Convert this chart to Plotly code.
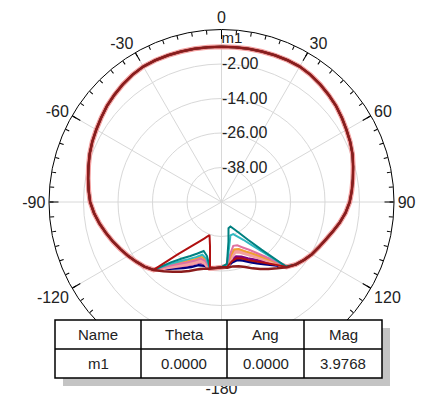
import plotly.graph_objects as go

W, H = 422, 401

# ---------------- data (dB vs theta, degrees) ----------------
theta_front = list(range(-130, 135, 5))
gain_front = [-15.0, -13.8, -12.5, -11.2, -9.8, -8.4, -6.9, -5.5, -4.3, -3.6,
              -2.9, -2.1, -1.2, -0.4, 0.3, 1.1, 2.0, 2.7, 3.4, 4.0,
              4.4, 4.4, 4.3, 4.2, 4.1, 4.0, 3.98, 4.0, 4.1, 4.2,
              4.3, 4.4, 4.4, 4.0, 3.4, 2.7, 2.0, 1.1, 0.2, -0.6,
              -1.5, -2.6, -3.6, -4.5, -5.4, -6.7, -8.3, -10.0, -11.5, -12.7,
              -13.7, -14.9, -16.2]

theta_back_left = [-180, -175, -170, -165, -160, -155, -150, -145, -140, -135]
theta_back_right = [135, 140, 145, 150, 155, 160, 165, 170, 175, 180]

navy_left = [-27.33, -26.98, -26.49, -27.05, -26.63, -25.09, -23.45, -21.71, -19.55, -16.58]
purple_left = [-27.33, -26.98, -26.52, -27.74, -27.67, -26.10, -24.43, -22.58, -20.14, -16.58]
salmon_left = [-27.33, -26.98, -26.56, -28.20, -28.37, -26.80, -25.09, -23.14, -20.56, -16.58]
pink_left = [-27.33, -26.98, -26.56, -28.69, -29.07, -27.47, -25.72, -23.70, -20.94, -16.58]
orange_left = [-27.33, -26.98, -26.59, -29.14, -29.77, -28.16, -26.38, -24.29, -21.36, -16.58]
cyan_left = [-27.33, -26.98, -26.63, -29.63, -30.47, -28.83, -27.05, -24.85, -21.78, -16.58]
teal_left = [-27.33, -26.98, -26.70, -30.53, -31.86, -30.22, -28.34, -26.00, -22.58, -16.58]
darkred_left = [-27.33, -26.98, -26.98, -34.51, -37.79, -36.05, -33.88, -30.81, -26.07, -16.58]
maroon_left = [-27.33, -26.98, -26.42, -25.93, -24.99, -23.49, -21.95, -20.38, -18.60, -16.58]

navy_right = [-17.98, -21.29, -23.59, -25.44, -26.98, -28.37, -29.10, -28.69, -27.29, -27.33]
purple_right = [-18.01, -22.09, -24.74, -26.77, -28.37, -29.77, -30.36, -29.52, -27.43, -27.33]
salmon_right = [-18.05, -23.28, -26.49, -28.79, -30.47, -31.86, -32.28, -30.74, -27.60, -27.33]
pink_right = [-18.08, -24.46, -28.23, -30.81, -32.56, -33.95, -34.20, -31.96, -27.78, -27.33]
orange_right = [-18.05, -23.66, -27.08, -29.45, -31.16, -32.56, -32.91, -31.16, -27.67, -27.33]
cyan_right = [-18.19, -26.87, -31.69, -34.83, -36.74, -38.14, -38.00, -34.44, -28.16, -27.33]
teal_right = [-18.26, -28.37, -33.95, -37.44, -39.53, -40.93, -40.58, -36.05, -28.37, -27.33]
darkred_right = [-17.98, -21.67, -24.19, -26.10, -27.67, -29.07, -29.73, -29.10, -27.36, -27.33]
maroon_right = [-17.91, -19.90, -21.57, -23.10, -24.53, -25.93, -26.87, -27.26, -27.08, -27.33]

curve_names = ["Curve 1", "Curve 2", "Curve 3", "Curve 4", "Curve 5",
               "Curve 6", "Curve 7", "Curve 8", "Curve 9"]
curve_colors = ["#000080", "#800080", "#f4a0a0", "#f0a030", "#e070a0",
                "#30b8c0", "#008080", "#b01010", "#8b1c1c"]
curve_widths = [2.5, 2.5, 5, 2, 2, 2, 2, 2, 2.5]
curve_left = [navy_left, purple_left, salmon_left, orange_left, pink_left,
              cyan_left, teal_left, darkred_left, maroon_left]
curve_right = [navy_right, purple_right, salmon_right, orange_right, pink_right,
               cyan_right, teal_right, darkred_right, maroon_right]

radial_ticks = [-38, -26, -14, -2]
angle_ticks = [0, 30, 60, 90, 120, 180, 240, 270, 300, 330]
angle_labels = ["0", "30", "60", "90", "120", "-180", "-120", "-90", "-60", "-30"]
minor_angle_ticks = list(range(0, 360, 5))

marker_name = "m1"
marker_theta = 0.0
marker_mag = 3.9768

table_header = ["Name", "Theta", "Ang", "Mag"]
table_row = ["m1", "0.0000", "0.0000", "3.9768"]

# ---------------- figure ----------------
FONT = "Liberation Sans, Arial, sans-serif"
fig = go.Figure()

theta_all = theta_back_left + theta_front + theta_back_right
for name, col, lw, lv, rv in zip(curve_names, curve_colors, curve_widths, curve_left, curve_right):
    fig.add_trace(go.Scatterpolar(
        theta=theta_all, r=lv + gain_front + rv, mode="lines",
        line=dict(color=col, width=lw),
        name=name, showlegend=False, subplot="polar"))

fig.add_trace(go.Scatterpolar(
    theta=[marker_theta], r=[marker_mag], mode="text", text=[marker_name],
    textposition="top right", textfont=dict(family=FONT, size=15, color="#222"),
    showlegend=False, subplot="polar"))

fig.add_trace(go.Scatterpolar(theta=[], r=[], subplot="polar2", showlegend=False))

dom_x = [49 / W, 394 / W]
dom_y = [(H - 202 - 172.5) / H, (H - 202 + 172.5) / H]

fig.update_layout(
    width=W, height=H, margin=dict(l=0, r=0, t=0, b=0),
    paper_bgcolor="white", plot_bgcolor="white",
    font=dict(family=FONT, color="#222"),
    polar=dict(
        domain=dict(x=dom_x, y=dom_y),
        bgcolor="white",
        radialaxis=dict(range=[-50, 10], tickvals=radial_ticks,
                        ticktext=["%.2f" % v for v in radial_ticks],
                        showline=False, ticks="", angle=90, side="clockwise",
                        tickangle=90, gridcolor="#d8d8d8", gridwidth=1,
                        tickfont=dict(family=FONT, size=16, color="#222")),
        angularaxis=dict(rotation=90, direction="clockwise", tickmode="array",
                         tickvals=angle_ticks, ticktext=angle_labels,
                         ticks="inside", ticklen=9, tickcolor="black", tickwidth=1,
                         showline=True, linecolor="black", linewidth=1,
                         gridcolor="#d8d8d8", gridwidth=1,
                         tickfont=dict(family=FONT, size=16, color="#222")),
    ),
    polar2=dict(
        domain=dict(x=dom_x, y=dom_y),
        bgcolor="rgba(0,0,0,0)",
        radialaxis=dict(visible=False, range=[-50, 10]),
        angularaxis=dict(rotation=90, direction="clockwise", tickmode="array",
                         tickvals=minor_angle_ticks, ticks="inside", ticklen=4,
                         tickcolor="black", tickwidth=1, showticklabels=False,
                         showline=False, showgrid=False),
    ),
)

# ---------------- marker table ----------------
def px(x):
    return x / W

def py(y):
    return 1 - y / H

col_edges = [55, 141, 227, 304, 382]
row_edges = [320, 349, 378]

shapes = [
    dict(type="rect", xref="paper", yref="paper", x0=px(63), x1=px(390), y0=py(386), y1=py(328),
         fillcolor="#c4c4c4", line=dict(width=0), layer="above"),
    dict(type="rect", xref="paper", yref="paper", x0=px(col_edges[0]), x1=px(col_edges[-1]),
         y0=py(row_edges[-1]), y1=py(row_edges[0]), fillcolor="white",
         line=dict(color="black", width=1.5), layer="above"),
    dict(type="line", xref="paper", yref="paper", x0=px(col_edges[0]), x1=px(col_edges[-1]),
         y0=py(row_edges[1]), y1=py(row_edges[1]), line=dict(color="black", width=1.5), layer="above"),
]
for xe in col_edges[1:-1]:
    shapes.append(dict(type="line", xref="paper", yref="paper", x0=px(xe), x1=px(xe),
                       y0=py(row_edges[-1]), y1=py(row_edges[0]),
                       line=dict(color="black", width=1.5), layer="above"))

annotations = []
for i in range(4):
    xc = px((col_edges[i] + col_edges[i + 1]) / 2)
    for txt, (ya, yb) in ((table_header[i], row_edges[0:2]), (table_row[i], row_edges[1:3])):
        annotations.append(dict(text=txt, x=xc, y=py((ya + yb) / 2), xref="paper", yref="paper",
                                xanchor="center", yanchor="middle", showarrow=False,
                                font=dict(family=FONT, size=15, color="#222")))

fig.update_layout(shapes=shapes, annotations=annotations)
fig.write_html("out.html")
